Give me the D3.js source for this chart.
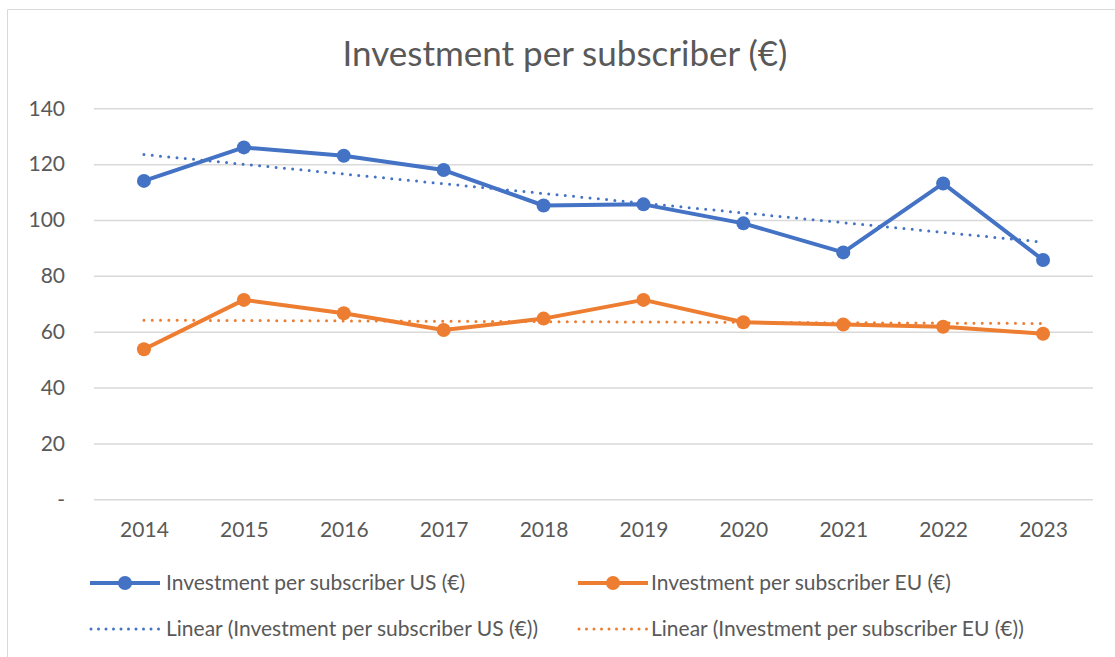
<!DOCTYPE html>
<html>
<head>
<meta charset="utf-8">
<script src="https://cdn.jsdelivr.net/npm/d3@7"></script>
<style>
  body { margin: 0; background: #fff; }
  svg { display: block; }
</style>
</head>
<body>
<div id="chart"></div>
<script>
var width = 1115;
var height = 657;
var fontFamily = "Lato, 'Open Sans', sans-serif";
var textColor = "#595959";
var gridColor = "#d9d9d9";

// data
var years = ["2014", "2015", "2016", "2017", "2018", "2019", "2020", "2021", "2022", "2023"];
var usValues = [114.0, 126.0, 123.0, 117.9, 105.2, 105.6, 98.8, 88.4, 113.1, 85.7];
var euValues = [53.7, 71.4, 66.6, 60.6, 64.7, 71.4, 63.4, 62.6, 61.8, 59.3];
var yTicks = [0, 20, 40, 60, 80, 100, 120, 140];
var seriesNames = ["Investment per subscriber US (€)", "Investment per subscriber EU (€)"];
var seriesColors = ["#4472C4", "#ED7D31"];

// least squares trendline, like the spreadsheet's "Linear" option
function linearFit(values) {
    var mx = d3.mean(values, (d, i) => i);
    var my = d3.mean(values);
    var sxy = d3.sum(values, (d, i) => (i - mx) * (d - my));
    var sxx = d3.sum(values, (d, i) => (i - mx) * (i - mx));
    var slope = sxy / sxx;
    return values.map((d, i) => my + slope * (i - mx));
}

var svg = d3.select("#chart")
            .append("svg")
            .attr("width", width)
            .attr("height", height);

// outer chart border (only top and left show in the crop)
svg.append("path")
    .attr("d", "M7.5," + height + " V9.5 H" + width)
    .attr("fill", "none")
    .attr("stroke", gridColor)
    .attr("stroke-width", 1);

var x = d3.scalePoint()
            .domain(years)
            .range([94, 1093])
            .padding(0.5);

var y = d3.scaleLinear()
            .domain([0, 140])
            .range([499.3, 108.3]);

// title
svg.append("text")
    .attr("x", 565)
    .attr("y", 66)
    .style("text-anchor", "middle")
    .style("font-family", fontFamily)
    .style("font-size", "35px")
    .attr("fill", textColor)
    .text("Investment per subscriber (€)");

// y grid + labels
var yAxis = d3.axisLeft(y)
                .tickValues(yTicks)
                .tickSize(-(1093 - 94))
                .tickPadding(29)
                .tickFormat(d => d === 0 ? "-" : d);
var gy = svg.append("g")
            .attr("transform", "translate(94,0)")
            .call(yAxis);
gy.select(".domain").remove();
gy.selectAll(".tick line").attr("stroke", gridColor).attr("stroke-width", 1.5);
gy.selectAll(".tick text")
    .attr("fill", textColor)
    .style("font-family", fontFamily)
    .style("font-size", "21px");

// x labels
var xAxis = d3.axisBottom(x).tickSize(0).tickPadding(23);
var gx = svg.append("g")
            .attr("transform", "translate(0,499.3)")
            .call(xAxis);
gx.select(".domain").remove();
gx.selectAll(".tick text")
    .attr("fill", textColor)
    .style("font-family", fontFamily)
    .style("font-size", "21px");

var lineGenerator = d3.line()
                        .x((d, i) => x(years[i]))
                        .y(d => y(d))
                        .curve(d3.curveLinear);

var allSeries = [usValues, euValues];

// trendlines
allSeries.forEach(function(values, k) {
    svg.append("path")
        .attr("d", lineGenerator(linearFit(values)))
        .attr("fill", "none")
        .attr("stroke", seriesColors[k])
        .attr("stroke-width", 3)
        .attr("stroke-linecap", "round")
        .attr("stroke-dasharray", "0 8.3");
});

// series lines + markers
allSeries.forEach(function(values, k) {
    svg.append("path")
        .attr("d", lineGenerator(values))
        .attr("fill", "none")
        .attr("stroke", seriesColors[k])
        .attr("stroke-width", 4)
        .attr("stroke-linejoin", "round");

    svg.selectAll(".pt" + k)
        .data(values)
        .enter()
        .append("circle")
        .attr("cx", (d, i) => x(years[i]))
        .attr("cy", d => y(d))
        .attr("r", 7)
        .attr("fill", seriesColors[k]);
});

// legend
var legendCols = [90, 578];
var legendTextX = [166, 651];
var legendRows = [583, 629];
var legend = svg.append("g");
seriesNames.forEach(function(name, k) {
    var lx = legendCols[k];
    var ly = legendRows[0];
    legend.append("line")
        .attr("x1", lx).attr("x2", lx + 70)
        .attr("y1", ly).attr("y2", ly)
        .attr("stroke", seriesColors[k])
        .attr("stroke-width", 4);
    legend.append("circle")
        .attr("cx", lx + 35).attr("cy", ly)
        .attr("r", 7)
        .attr("fill", seriesColors[k]);
    legend.append("text")
        .attr("x", legendTextX[k]).attr("y", ly)
        .attr("dy", "0.35em")
        .attr("fill", textColor)
        .style("font-family", fontFamily)
        .style("font-size", "21px")
        .text(name);

    var ly2 = legendRows[1];
    legend.append("line")
        .attr("x1", lx + 1).attr("x2", lx + 69)
        .attr("y1", ly2).attr("y2", ly2)
        .attr("stroke", seriesColors[k])
        .attr("stroke-width", 3)
        .attr("stroke-linecap", "round")
        .attr("stroke-dasharray", "0 7.5");
    legend.append("text")
        .attr("x", legendTextX[k]).attr("y", ly2)
        .attr("dy", "0.35em")
        .attr("fill", textColor)
        .style("font-family", fontFamily)
        .style("font-size", "21px")
        .text("Linear (" + name + ")");
});
</script>
</body>
</html>
